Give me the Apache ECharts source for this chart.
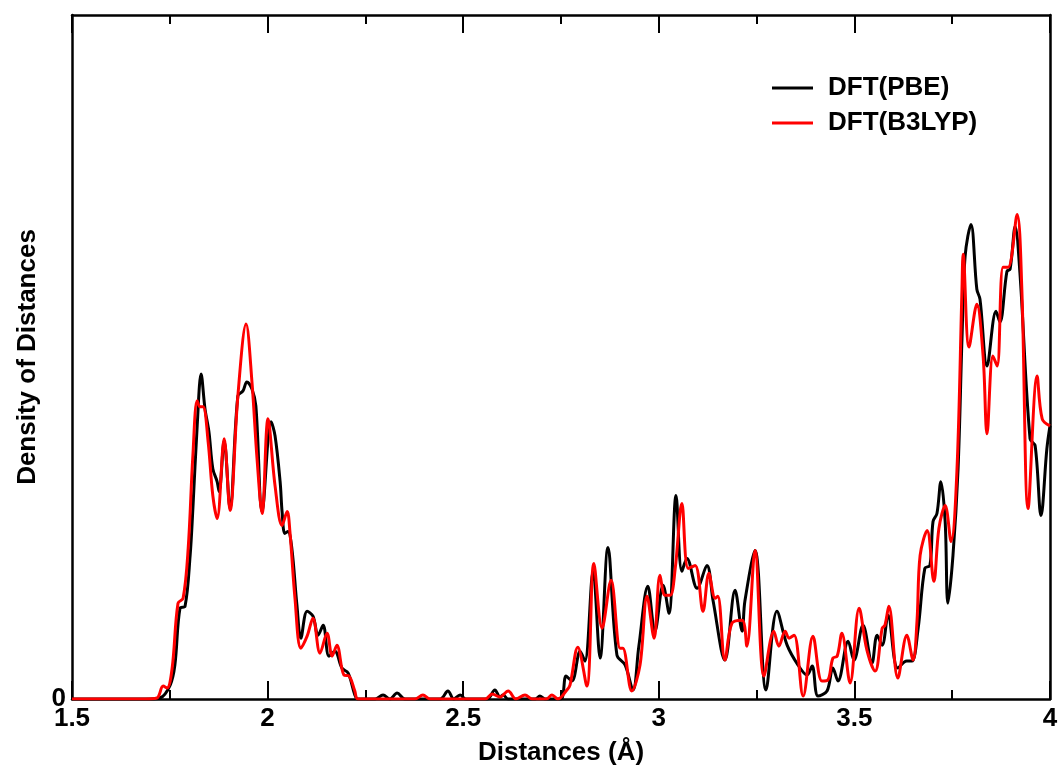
<!DOCTYPE html>
<html><head><meta charset="utf-8">
<script src="https://cdn.jsdelivr.net/npm/echarts@6/dist/echarts.min.js"></script>
<style>html,body{margin:0;padding:0;background:#fff}#c{width:1061px;height:771px}</style>
</head><body><div id="c"></div>
<script>
const xTicks = [1.5, 2, 2.5, 3, 3.5, 4];
const seriesNames = ['DFT(PBE)', 'DFT(B3LYP)'];

const pbeX = [1.5,1.699,1.725,1.751,1.763,1.776,1.789,1.802,1.809,1.820,1.830,1.840,1.850,1.860,1.871,1.876,1.889,1.904,1.924,1.937,1.947,1.960,1.970,1.986,2.009,2.019,2.032,2.037,2.044,2.052,2.062,2.075,2.085,2.101,2.116,2.129,2.142,2.157,2.172,2.190,2.206,2.223,2.231,
2.275,2.295,2.313,2.331,2.351,2.441,2.461,2.476,2.492,2.507,2.561,2.581,2.594,2.602,2.615,2.684,2.696,2.709,2.742,2.753,2.763,2.778,2.799,2.811,2.832,2.850,2.870,2.893,2.914,2.934,2.949,2.972,2.990,3.011,3.026,3.044,3.059,3.072,3.098,3.123,3.139,3.169,3.195,3.213,3.220,3.246,3.274,3.302,3.328,3.356,3.379,3.392,3.407,3.430,3.445,3.458,3.484,3.499,3.522,3.545,3.558,3.571,3.586,3.611,3.634,3.647,3.663,3.680,3.693,3.701,3.711,3.721,3.732,3.739,3.752,3.765,3.775,3.783,3.798,3.813,3.821,3.839,3.862,3.872,3.890,3.898,3.911,3.923,3.949,3.962,3.977,3.992,4.0];
const pbeY = [0,0,0.01,0.14,0.34,0.91,0.93,1.44,1.91,2.74,3.26,2.91,2.68,2.31,2.18,2.08,2.59,1.91,3.04,3.09,3.18,3.11,2.94,1.88,2.78,2.64,2.18,1.88,1.66,1.68,1.51,0.94,0.61,0.88,0.83,0.64,0.74,0.43,0.48,0.31,0.26,0.04,0,
0,0.04,0,0.06,0,0,0.08,0,0.04,0,0,0.09,0.02,0.04,0,0,0.03,0,0,0.01,0.23,0.18,0.48,0.38,1.28,0.41,1.52,0.44,0.34,0.09,0.53,1.13,0.68,1.14,0.86,2.04,1.28,1.41,1.11,1.34,0.98,0.39,1.09,0.68,0.98,1.49,0.09,0.88,0.54,0.34,0.24,0.33,0.03,0.08,0.31,0.18,0.58,0.39,0.74,0.36,0.64,0.54,0.84,0.31,0.38,0.38,0.71,1.31,1.34,1.78,1.86,2.18,1.78,0.96,1.44,2.31,3.61,4.44,4.76,4.11,4.01,3.34,3.89,3.78,4.29,4.31,4.74,4.28,2.61,2.54,1.84,2.51,2.74];

const b3lypX = [1.5,1.687,1.717,1.733,1.743,1.756,1.771,1.784,1.797,1.809,1.820,1.827,1.835,1.848,1.860,1.871,1.889,1.904,1.924,1.945,1.960,1.973,1.986,2.001,2.019,2.037,2.050,2.057,2.070,2.085,2.101,2.116,2.134,2.152,2.165,2.177,2.195,2.208,2.223,2.231,
2.377,2.397,2.415,2.556,2.574,2.594,2.615,2.635,2.658,2.676,2.712,2.727,2.742,2.765,2.773,2.793,2.816,2.834,2.855,2.878,2.901,2.908,2.931,2.952,2.970,2.988,3.003,3.016,3.029,3.042,3.059,3.075,3.093,3.113,3.128,3.144,3.151,3.169,3.187,3.213,3.225,3.246,3.269,3.294,3.307,3.323,3.333,3.346,3.369,3.394,3.417,3.432,3.445,3.456,3.468,3.489,3.512,3.532,3.553,3.571,3.578,3.588,3.611,3.634,3.650,3.660,3.668,3.686,3.703,3.716,3.732,3.747,3.762,3.775,3.778,3.793,3.813,3.829,3.839,3.854,3.865,3.880,3.893,3.916,3.928,3.944,3.967,3.980,4.0];
const b3lypY = [0,0,0.01,0.13,0.11,0.31,0.96,1.01,1.51,2.44,2.99,2.93,2.93,2.58,2.04,1.81,2.61,1.89,3.04,3.76,3.18,2.41,1.86,2.81,2.14,1.74,1.88,1.68,1.01,0.51,0.63,0.81,0.46,0.66,0.43,0.54,0.24,0.23,0.08,0,
0,0.04,0,0,0.05,0.02,0.08,0,0.04,0,0,0.04,0,0.09,0.14,0.52,0.13,1.36,0.71,1.19,0.51,0.51,0.08,0.34,1.03,0.61,1.24,1.04,1.04,1.31,1.96,1.31,1.34,0.88,1.26,1.01,1.03,0.39,0.76,0.79,0.53,1.49,0.23,0.68,0.53,0.68,0.61,0.64,0.03,0.63,0.18,0.19,0.41,0.43,0.66,0.16,0.91,0.49,0.28,0.71,0.74,0.93,0.21,0.64,0.39,0.78,1.44,1.69,1.18,1.71,1.94,1.58,2.28,4.11,4.46,3.53,3.96,3.44,2.66,3.44,3.34,4.33,4.33,4.86,4.11,1.91,3.24,2.81,2.74];

const pair = (xs, ys) => xs.map((x, i) => [x, ys[i]]);
const FONT = '"Liberation Sans", Arial, sans-serif';
const TXT = {fontFamily: FONT, fontWeight: 'bold', fontSize: 26, color: '#000'};

const chart = echarts.init(document.getElementById('c'), null, {renderer: 'canvas'});
const axisLine = {show: true, onZero: false, lineStyle: {color: '#000', width: 2.5}};
const tickAxis = (pos, interval, len, line) => ({
  type: 'value', min: 1.5, max: 4, interval: interval, position: pos,
  axisLine: line ? axisLine : {show: false, onZero: false},
  axisTick: {show: true, inside: true, length: len, lineStyle: {color: '#000', width: 2}},
  axisLabel: {show: false}, splitLine: {show: false}
});
const mainX = tickAxis('bottom', 0.5, 18, true);
Object.assign(mainX, {
  name: 'Distances (Å)', nameLocation: 'middle', nameGap: 41, nameTextStyle: TXT,
  axisLabel: Object.assign({show: true, margin: 7,
    formatter: v => xTicks.includes(+v.toFixed(2)) ? String(+v.toFixed(2)) : ''}, TXT)
});
chart.setOption({
  animation: false,
  backgroundColor: '#fff',
  grid: {left: 72, top: 15, width: 978, height: 686, containLabel: false},
  legend: {
    orient: 'vertical', left: 767, top: 68, itemWidth: 41, itemHeight: 3, itemGap: 5,
    icon: 'rect',
    data: seriesNames,
    textStyle: Object.assign({padding: [0,0,0,10], lineHeight: 30}, TXT)
  },
  xAxis: [mainX, tickAxis('top', 0.5, 18, true), tickAxis('bottom', 0.25, 9, false), tickAxis('top', 0.25, 9, false)],
  yAxis: [{
    type: 'value', min: 0, max: 6.86, interval: 6.86, position: 'left',
    name: 'Density of Distances', nameLocation: 'middle', nameGap: 31,
    nameTextStyle: TXT,
    axisLine, axisTick: {show: false},
    axisLabel: Object.assign({margin: 6, formatter: v => v === 0 ? '0' : ''}, TXT),
    splitLine: {show: false}
  }, {
    type: 'value', min: 0, max: 6.86, position: 'right',
    axisLine, axisTick: {show: false}, axisLabel: {show: false}, splitLine: {show: false}
  }],
  series: [{
    name: seriesNames[0], type: 'line', data: pair(pbeX, pbeY), symbol: 'none', smooth: 0.35,
    xAxisIndex: 0, yAxisIndex: 0,
    lineStyle: {color: '#000', width: 3}, itemStyle: {color: '#000'}, z: 2
  }, {
    name: seriesNames[1], type: 'line', data: pair(b3lypX, b3lypY), symbol: 'none', smooth: 0.35,
    xAxisIndex: 0, yAxisIndex: 0,
    lineStyle: {color: '#ff0000', width: 3}, itemStyle: {color: '#ff0000'}, z: 3
  }]
});
</script></body></html>
